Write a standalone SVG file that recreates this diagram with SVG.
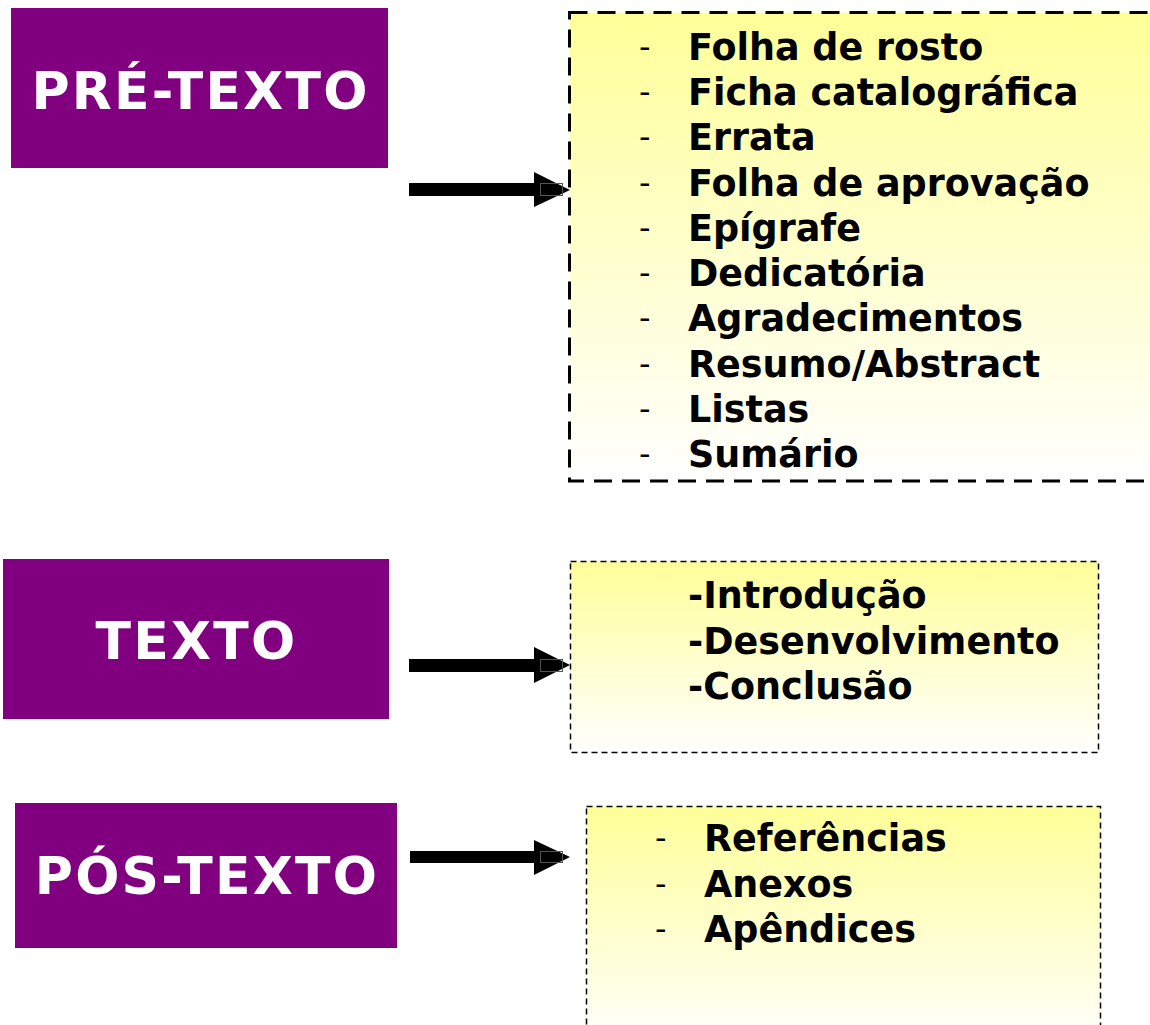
<svg xmlns="http://www.w3.org/2000/svg" width="1150" height="1025" viewBox="0 0 1150 1025">
<style>
.title{font-family:"DejaVu Sans",Verdana,sans-serif;font-weight:bold;font-size:52px;fill:#ffffff;text-anchor:middle;letter-spacing:2.2px}
.item{font-family:"DejaVu Sans",Verdana,sans-serif;font-weight:bold;font-size:36.5px;fill:#000000}
.dash{font-family:"DejaVu Sans",sans-serif;font-weight:normal;font-size:32px;fill:#000000}
.head{fill:#800080}
.arrow{fill:#000000}
.inner{fill:none;stroke:#555555;stroke-width:1}
</style>
<defs>
<linearGradient id="yg" x1="0" y1="0" x2="0" y2="1">
<stop offset="0" stop-color="#ffff99"/>
<stop offset="1" stop-color="#ffffff"/>
</linearGradient>
</defs>
<rect width="1150" height="1025" fill="#ffffff"/>

<g id="pre-texto">
<rect class="head" x="11" y="8" width="377" height="160"/>
<text class="title" x="200.5" y="109">PRÉ-TEXTO</text>
</g>
<g id="texto">
<rect class="head" x="3" y="559" width="386" height="160"/>
<text class="title" x="196.5" y="659">TEXTO</text>
</g>
<g id="pos-texto">
<rect class="head" x="15" y="803" width="382" height="145"/>
<text class="title" x="207" y="894">PÓS-TEXTO</text>
</g>

<g id="lista-pre">
<rect x="569.5" y="12.5" width="585" height="468.5" fill="url(#yg)" stroke="#000000" stroke-width="3" stroke-dasharray="18 10"/>
<text class="dash" x="639" y="58">-</text>
<text class="item" x="688" y="60">Folha de rosto</text>
<text class="dash" x="639" y="103">-</text>
<text class="item" x="688" y="105">Ficha catalográfica</text>
<text class="dash" x="639" y="148">-</text>
<text class="item" x="688" y="150">Errata</text>
<text class="dash" x="639" y="194">-</text>
<text class="item" x="688" y="196">Folha de aprovação</text>
<text class="dash" x="639" y="239">-</text>
<text class="item" x="688" y="241">Epígrafe</text>
<text class="dash" x="639" y="284">-</text>
<text class="item" x="688" y="286">Dedicatória</text>
<text class="dash" x="639" y="329">-</text>
<text class="item" x="688" y="331">Agradecimentos</text>
<text class="dash" x="639" y="375">-</text>
<text class="item" x="688" y="377">Resumo/Abstract</text>
<text class="dash" x="639" y="420">-</text>
<text class="item" x="688" y="422">Listas</text>
<text class="dash" x="639" y="465">-</text>
<text class="item" x="688" y="467">Sumário</text>
</g>

<g id="lista-texto">
<rect x="570.5" y="561.5" width="528" height="191" fill="url(#yg)" stroke="#000000" stroke-width="1.5" stroke-dasharray="6 4"/>
<text class="item" x="688" y="608">-Introdução</text>
<text class="item" x="688" y="654">-Desenvolvimento</text>
<text class="item" x="688" y="699">-Conclusão</text>
</g>

<g id="lista-pos">
<rect x="586.5" y="806.5" width="514" height="240" fill="url(#yg)" stroke="#000000" stroke-width="1.5" stroke-dasharray="6 4"/>
<text class="dash" x="655" y="849">-</text>
<text class="item" x="704" y="851">Referências</text>
<text class="dash" x="655" y="895">-</text>
<text class="item" x="704" y="897">Anexos</text>
<text class="dash" x="655" y="940">-</text>
<text class="item" x="704" y="942">Apêndices</text>
</g>

<g id="connectors">
<g id="arrow-pre">
<polygon class="arrow" points="409,183 534,183 534,172 570,190 534,207 534,196 409,196"/>
<rect class="inner" x="540.5" y="183.5" width="22" height="12"/>
</g>
<g id="arrow-texto">
<polygon class="arrow" points="409,659 534,659 534,647 570,665 534,683 534,672 409,672"/>
<rect class="inner" x="540.5" y="659.5" width="22" height="12"/>
</g>
<g id="arrow-pos">
<polygon class="arrow" points="410,851 534,851 534,840 570,857 534,875 534,863 410,863"/>
<rect class="inner" x="540.5" y="851.5" width="22" height="11"/>
</g>
</g>
</svg>
